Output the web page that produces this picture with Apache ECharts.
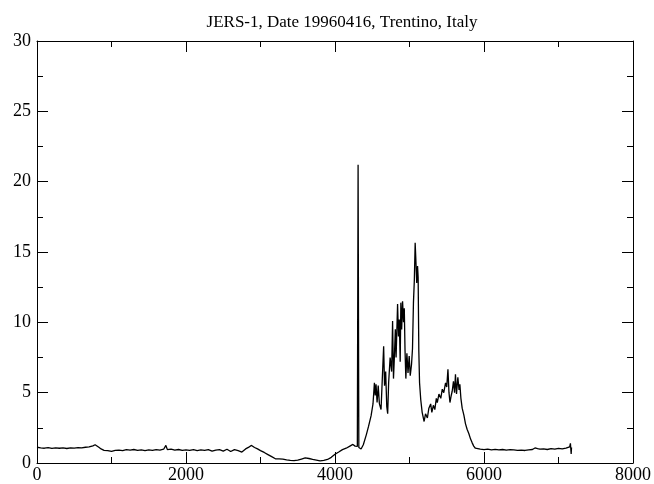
<!DOCTYPE html>
<html>
<head>
<meta charset="utf-8">
<script src="https://cdn.jsdelivr.net/npm/echarts@6/dist/echarts.min.js"></script>
<style>html,body{margin:0;padding:0;background:#fff}#c{width:654px;height:484px}</style>
</head>
<body>
<div id="c"></div>
<script>
const titleText = 'JERS-1, Date 19960416, Trentino, Italy';
const xTicks = [0, 2000, 4000, 6000, 8000];
const yTicks = [0, 5, 10, 15, 20, 25, 30];
const xVals = [0,25,50,100,150,200,250,300,350,400,450,500,550,600,650,700,750,780,800,830,860,900,950,1000,1050,1100,1150,1200,1250,1300,1350,1400,1450,1500,1550,1600,1650,1700,1730,1750,1800,1850,1900,1950,2000,2050,2100,2150,2200,2250,2300,2350,2400,2450,2500,2550,2600,2650,2700,2750,2800,2850,2880,2920,2960,3000,3050,3100,3150,3200,3250,3300,3350,3400,3450,3500,3550,3600,3650,3700,3750,3800,3850,3900,3950,4000,4050,4100,4150,4200,4240,4270,4300,4310,4320,4350,4380,4420,4450,4484,4510,4529,4540,4551,4565,4580,4596,4618,4635,4653,4665,4680,4695,4707,4720,4740,4760,4773,4785,4796,4810,4820,4840,4852,4863,4875,4884,4895,4907,4920,4930,4940,4951,4965,4980,4996,5010,5027,5040,5053,5065,5076,5085,5097,5108,5116,5125,5135,5151,5170,5196,5215,5240,5260,5284,5300,5320,5340,5360,5373,5395,5420,5440,5460,5484,5500,5516,5530,5543,5560,5573,5590,5605,5617,5631,5649,5665,5676,5690,5707,5730,5751,5773,5796,5820,5840,5862,5884,5910,5950,6000,6050,6100,6150,6200,6250,6300,6350,6400,6450,6500,6550,6600,6650,6684,6720,6750,6800,6850,6900,6950,7000,7050,7100,7150,7160,7170,7175];
const yVals = [1.12,0.98,1.08,1.05,1.1,1.04,1.08,1.05,1.07,1.03,1.08,1.06,1.1,1.08,1.12,1.15,1.22,1.3,1.25,1.12,1.0,0.9,0.88,0.82,0.9,0.92,0.88,0.95,0.92,0.96,0.9,0.94,0.88,0.93,0.9,0.95,0.92,0.98,1.25,0.95,0.98,0.92,0.96,0.9,0.94,0.9,0.95,0.88,0.93,0.9,0.95,0.85,0.92,0.95,0.85,0.98,0.82,0.95,0.88,0.78,1.0,1.15,1.25,1.1,1.0,0.88,0.75,0.6,0.45,0.3,0.3,0.28,0.22,0.18,0.17,0.2,0.28,0.36,0.32,0.25,0.2,0.15,0.18,0.25,0.4,0.62,0.78,0.95,1.05,1.2,1.32,1.2,1.18,21.2,1.1,1.0,1.3,2.0,2.6,3.35,4.2,5.7,4.8,5.6,4.3,5.5,4.2,3.8,6.0,8.3,5.5,6.5,4.0,3.5,5.7,7.5,6.5,10.1,6.0,7.4,9.5,7.5,11.3,9.0,10.2,7.2,11.4,9.5,11.5,10.0,11.0,8.0,6.0,7.8,6.4,7.6,6.2,7.0,8.1,11.4,13.0,15.65,14.5,12.8,14.0,13.2,8.0,5.7,4.5,3.6,2.95,3.5,3.2,3.9,4.2,3.6,4.1,3.8,4.6,4.3,4.9,4.6,5.25,5.0,5.7,5.4,6.67,5.0,4.3,4.8,5.1,5.8,5.0,6.3,4.9,6.1,5.2,5.6,4.6,3.9,3.4,2.8,2.4,2.1,1.7,1.45,1.2,1.05,1.0,0.98,0.95,0.98,0.94,0.97,0.93,0.96,0.92,0.95,0.93,0.9,0.92,0.89,0.93,0.96,1.07,1.02,0.98,1.0,0.96,1.02,0.98,1.04,1.0,1.06,1.15,1.4,0.65,1.1];
const points = xVals.map((x, i) => [x, yVals[i]]);

const chart = echarts.init(document.getElementById('c'), null, {renderer: 'canvas'});
const font = 'Liberation Serif';
function axisCommon() {
  return {
    type: 'value',
    axisLine: {show: true, onZero: false, lineStyle: {color: '#000', width: 1}},
    splitLine: {show: false},
    axisTick: {show: true, inside: true, length: 11, lineStyle: {color: '#000'}},
    minorTick: {show: true, splitNumber: 2, length: 6, lineStyle: {color: '#000'}},
  };
}
chart.setOption({
  animation: false,
  backgroundColor: '#fff',
  title: {text: titleText, left: 337, top: 9, textAlign: 'center',
    textStyle: {fontFamily: font, fontSize: 17, fontWeight: 'normal', color: '#000'}},
  grid: {left: 37, right: 17, top: 41, bottom: 20, containLabel: false},
  xAxis: [
    Object.assign(axisCommon(), {min: 0, max: 8000, interval: 2000, position: 'bottom',
      axisLabel: {fontFamily: font, fontSize: 18, color: '#000', margin: 3, formatter: v => String(v)}}),
    Object.assign(axisCommon(), {min: 0, max: 8000, interval: 2000, position: 'top',
      axisLabel: {show: false}})
  ],
  yAxis: [
    Object.assign(axisCommon(), {min: 0, max: 30, interval: 5, position: 'left',
      axisLabel: {fontFamily: font, fontSize: 18, color: '#000', margin: 6, formatter: v => String(v)}}),
    Object.assign(axisCommon(), {min: 0, max: 30, interval: 5, position: 'right',
      axisLabel: {show: false}})
  ],
  series: [{
    type: 'line', data: points, showSymbol: false, symbol: 'none',
    lineStyle: {color: '#000', width: 1.3}, xAxisIndex: 0, yAxisIndex: 0
  }]
});
</script>
</body>
</html>
